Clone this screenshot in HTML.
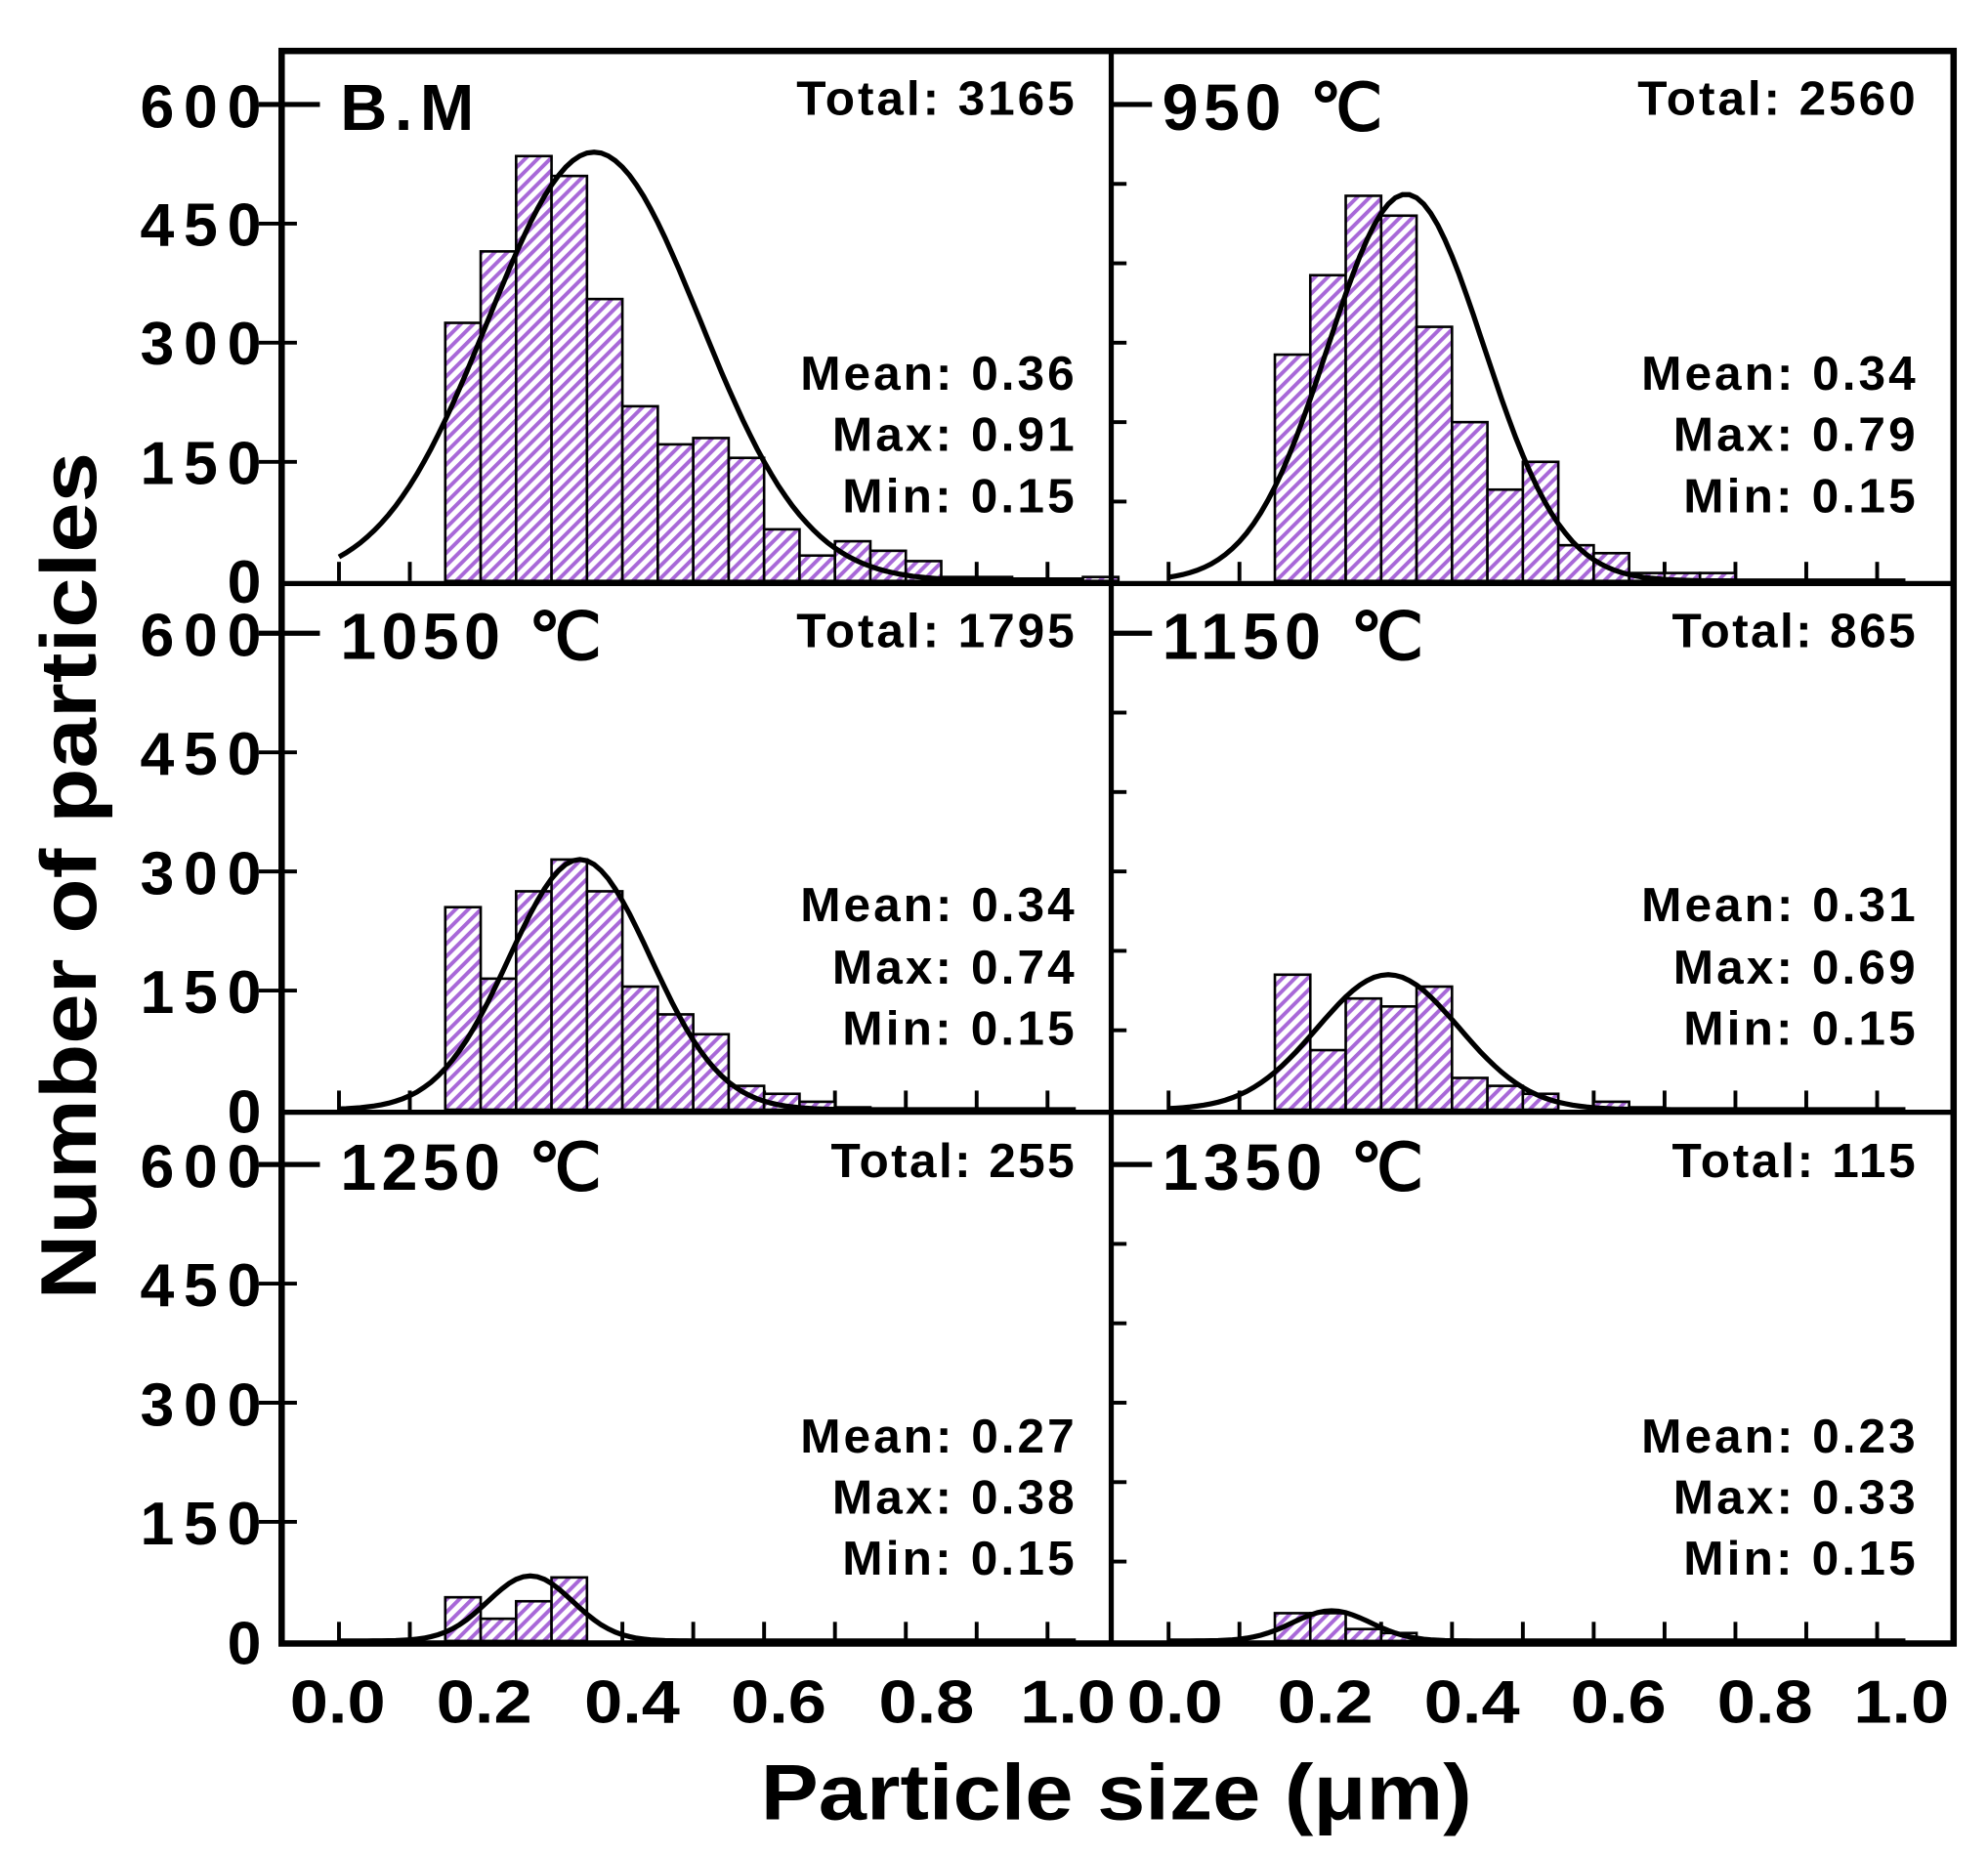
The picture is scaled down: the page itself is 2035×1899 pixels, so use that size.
<!DOCTYPE html>
<html><head><meta charset="utf-8"><style>
html,body{margin:0;padding:0;background:#fff;}
svg{display:block;}
text{font-family:"Liberation Sans",sans-serif;font-weight:bold;fill:#000;}
</style></head><body>
<svg id="s" width="2035" height="1899" viewBox="0 0 1560 1456" preserveAspectRatio="none" xmlns="http://www.w3.org/2000/svg">
<defs>
<pattern id="h" patternUnits="userSpaceOnUse" width="7" height="7" patternTransform="rotate(45)">
<rect width="7" height="7" fill="#fff"/><rect x="0" y="0" width="3" height="7" fill="#a868d8"/>
</pattern>
</defs>
<g id="plots"></g>
<rect x="221" y="40" width="1312" height="1250" fill="none" stroke="#000" stroke-width="5"/>
<line x1="872" y1="40" x2="872" y2="1290" stroke="#000" stroke-width="4"/>
<line x1="221" y1="458" x2="1533" y2="458" stroke="#000" stroke-width="4"/>
<line x1="221" y1="873" x2="1533" y2="873" stroke="#000" stroke-width="4"/>
<g font-size="48" text-anchor="end" lengthAdjust="spacingAndGlyphs">
<text x="205" y="100" textLength="95">600</text><text x="205" y="193" textLength="95">450</text><text x="205" y="286" textLength="95">300</text><text x="205" y="380" textLength="95">150</text><text x="205" y="473" textLength="32">0</text>
<text x="205" y="515" textLength="95">600</text><text x="205" y="608" textLength="95">450</text><text x="205" y="702" textLength="95">300</text><text x="205" y="795" textLength="95">150</text><text x="205" y="889" textLength="32">0</text>
<text x="205" y="932" textLength="95">600</text><text x="205" y="1025" textLength="95">450</text><text x="205" y="1119" textLength="95">300</text><text x="205" y="1212" textLength="95">150</text><text x="205" y="1306" textLength="32">0</text>
</g>
<g font-size="48" text-anchor="middle">
<text x="265" y="1352" textLength="75" lengthAdjust="spacingAndGlyphs">0.0</text><text x="380" y="1352" textLength="75" lengthAdjust="spacingAndGlyphs">0.2</text><text x="496" y="1352" textLength="75" lengthAdjust="spacingAndGlyphs">0.4</text><text x="611" y="1352" textLength="75" lengthAdjust="spacingAndGlyphs">0.6</text><text x="727" y="1352" textLength="75" lengthAdjust="spacingAndGlyphs">0.8</text><text x="838" y="1352" textLength="75" lengthAdjust="spacingAndGlyphs">1.0</text>
<text x="922" y="1352" textLength="75" lengthAdjust="spacingAndGlyphs">0.0</text><text x="1040" y="1352" textLength="75" lengthAdjust="spacingAndGlyphs">0.2</text><text x="1155" y="1352" textLength="75" lengthAdjust="spacingAndGlyphs">0.4</text><text x="1270" y="1352" textLength="75" lengthAdjust="spacingAndGlyphs">0.6</text><text x="1385" y="1352" textLength="75" lengthAdjust="spacingAndGlyphs">0.8</text><text x="1492" y="1352" textLength="75" lengthAdjust="spacingAndGlyphs">1.0</text>
</g>
<text x="597" y="1428" font-size="62" textLength="558" lengthAdjust="spacingAndGlyphs">Particle size (μm)</text>
<text transform="translate(75,1020) rotate(-90)" font-size="62" textLength="665" lengthAdjust="spacingAndGlyphs">Number of particles</text>
<g font-size="51" lengthAdjust="spacingAndGlyphs">
<text x="267" y="102" textLength="105">B.M</text><text x="912" y="102" textLength="173">950 ℃</text>
<text x="267" y="517" textLength="205">1050 ℃</text><text x="912" y="517" textLength="205">1150 ℃</text>
<text x="267" y="934" textLength="205">1250 ℃</text><text x="912" y="934" textLength="205">1350 ℃</text>
</g>
<g font-size="38" text-anchor="end" lengthAdjust="spacingAndGlyphs">
<text x="843" y="90" textLength="218">Total: 3165</text><text x="843" y="306" textLength="215">Mean: 0.36</text><text x="843" y="354" textLength="190">Max: 0.91</text><text x="843" y="402" textLength="182">Min: 0.15</text>
<text x="1503" y="90" textLength="218">Total: 2560</text><text x="1503" y="306" textLength="215">Mean: 0.34</text><text x="1503" y="354" textLength="190">Max: 0.79</text><text x="1503" y="402" textLength="182">Min: 0.15</text>
<text x="843" y="508" textLength="218">Total: 1795</text><text x="843" y="723" textLength="215">Mean: 0.34</text><text x="843" y="772" textLength="190">Max: 0.74</text><text x="843" y="820" textLength="182">Min: 0.15</text>
<text x="1503" y="508" textLength="191">Total: 865</text><text x="1503" y="723" textLength="215">Mean: 0.31</text><text x="1503" y="772" textLength="190">Max: 0.69</text><text x="1503" y="820" textLength="182">Min: 0.15</text>
<text x="843" y="924" textLength="191">Total: 255</text><text x="843" y="1140" textLength="215">Mean: 0.27</text><text x="843" y="1188" textLength="190">Max: 0.38</text><text x="843" y="1236" textLength="182">Min: 0.15</text>
<text x="1503" y="924" textLength="191">Total: 115</text><text x="1503" y="1140" textLength="215">Mean: 0.23</text><text x="1503" y="1188" textLength="190">Max: 0.33</text><text x="1503" y="1236" textLength="182">Min: 0.15</text>
</g>
</svg>
<script>
(function(){
var NS="http://www.w3.org/2000/svg",g=document.getElementById("plots");
function el(t,a){var e=document.createElementNS(NS,t);for(var k in a)e.setAttribute(k,a[k]);g.appendChild(e);return e;}
var panels=[
{c:0,r:0,b:[325,415,535,510,355,220,172,180,155,65,32,50,38,25,5,5,3,3,5],m:0.36,s:0.15,p:540},
{c:1,r:0,b:[285,385,485,460,320,200,115,150,45,35,10,10,10],m:0.335,s:0.11,p:487},
{c:0,r:1,b:[255,165,275,315,275,155,120,95,30,20,10,3],m:0.34,s:0.1,p:315},
{c:1,r:1,b:[170,75,140,130,155,40,30,20,0,10,3],m:0.31,s:0.1,p:170},
{c:0,r:2,b:[55,28,50,80],m:0.27,s:0.06,p:82},
{c:1,r:2,b:[35,35,15,10],m:0.23,s:0.055,p:38}];
var bottoms=[456,871,1288];
panels.forEach(function(P){
 var ax=P.c?872:221,x0=ax+45,sc=556,yb=bottoms[P.r],ys=374/600;
 for(var i=0;i<=11;i++){var x=x0+i*sc/10;if(x>ax+640)break;el("line",{x1:x,y1:yb,x2:x,y2:yb-15,stroke:"#000","stroke-width":3});}
 for(var v=0;v<=600;v+=(P.c?100:150)){var y=yb-v*ys;if(v==0)continue;
  el("line",{x1:(P.c?ax:ax-18),y1:y,x2:ax+(v==600?30:12),y2:y,stroke:"#000","stroke-width":3});}
 if(!P.c){el("line",{x1:ax-18,y1:yb-600*ys,x2:ax+30,y2:yb-600*ys,stroke:"#000","stroke-width":4});}
 else{el("line",{x1:ax,y1:yb-600*ys,x2:ax+32,y2:yb-600*ys,stroke:"#000","stroke-width":4});}
 P.b.forEach(function(v,i){if(v<=0)return;var x=x0+(0.15+i*0.05)*sc,h=v*ys;
  el("rect",{x:x,y:yb-h,width:sc*0.05,height:h,fill:"url(#h)",stroke:"#000","stroke-width":2});});
 var d="";for(var t=0;t<=1.05;t+=0.01){var val=P.p*Math.exp(-Math.pow(t-P.m,2)/(2*P.s*P.s));
  var X=x0+t*sc,Y=yb-val*ys;d+=(t==0?"M":"L")+X.toFixed(1)+" "+Y.toFixed(1);}
 el("path",{d:d,fill:"none",stroke:"#000","stroke-width":4});
});
})();
</script>
</body></html>
